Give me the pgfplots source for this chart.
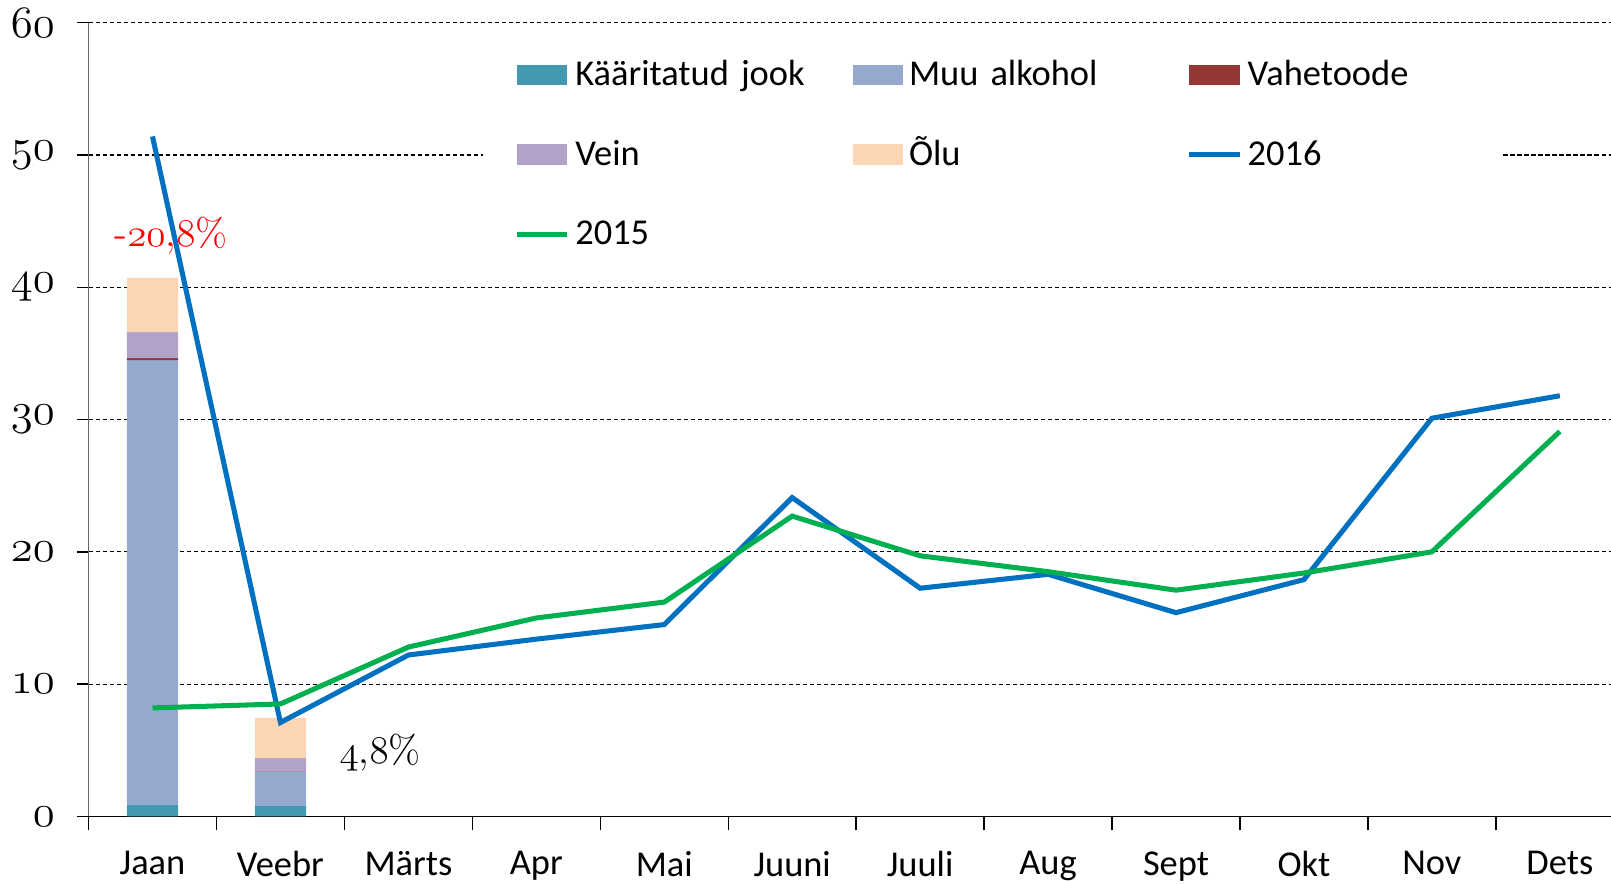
\RequirePackage{fix-cm}
\documentclass[border=0pt]{standalone}
\usepackage{fontspec}
\newfontfamily\calib{Carlito}
\usepackage{pgfplots}
\pgfplotsset{compat=1.18}

\definecolor{kjook}{RGB}{67,153,176}
\definecolor{muu}{RGB}{149,169,207}
\definecolor{vahe}{RGB}{149,55,53}
\definecolor{vein}{RGB}{178,162,199}
\definecolor{olu}{RGB}{252,213,181}
\definecolor{y2016}{RGB}{0,112,192}
\definecolor{y2015}{RGB}{0,176,80}

\pgfplotsset{
  legbar/.style={legend image code/.code={\fill[##1] (0pt,-3.6pt) rectangle (18pt,3.6pt);}},
  legline/.style={legend image code/.code={\draw[##1] (0pt,0pt) -- (18pt,0pt);}},
}

\begin{document}
\begin{tikzpicture}
\begin{axis}[
  width=543.4pt, height=283.3pt, scale only axis,
  xmin=-0.5, xmax=11.4, ymin=0, ymax=60,
  ybar stacked, bar width=0.4, reverse stacked plots=false,
  axis x line*=bottom, axis y line*=left,
  x axis line style={black, line width=0.6pt},
  y axis line style={gray!80!black, line width=0.6pt},
  xtick={0,...,11},
  xticklabels={Jaan,Veebr,Märts,Apr,Mai,Juuni,Juuli,Aug,Sept,Okt,Nov,Dets},
  minor xtick={-0.5,0.5,...,10.5},
  ytick={0,10,...,60},
  yticklabels={$\mathnormal{0}$,$\mathnormal{10}$,$\mathnormal{20}$,$\mathnormal{30}$,$\mathnormal{40}$,$\mathnormal{50}$,$\mathnormal{60}$},
  tick align=outside,
  major x tick style={draw=none},
  minor x tick style={black, line width=0.5pt},
  minor tick length=5pt,
  major tick length=4pt,
  ytick style={black, line width=0.5pt},
  ymajorgrids,
  grid style={black, dash pattern=on 1.5pt off 1pt, line width=0.4pt},
  x tick label style={font=\calib\fontsize{13}{15}\selectfont, yshift=-5pt},
  y tick label style={font=\fontsize{16}{18}\selectfont, xshift=-4.5pt},
  legend columns=3,
  legend cell align=left,
  legend style={at={(0.259,0.982)}, anchor=north west, draw=none, fill=white,
    font=\calib\fontsize{13}{15}\selectfont,
    inner xsep=11pt, inner ysep=6pt, row sep=14pt,
    /tikz/every even column/.append style={text width=78pt, column sep=19.1pt, inner sep=0pt, text height=9pt, text depth=3pt},
    /tikz/every odd column/.append style={column sep=0pt}},
]
\addplot[fill=kjook, draw=none, legbar] coordinates {(0,0.85) (1,0.8)};
\addlegendentry{\mbox{Kääritatud jook}}
\addplot[fill=muu, draw=none, legbar] coordinates {(0,33.65) (1,2.6)};
\addlegendentry{Muu alkohol}
\addplot[fill=vahe, draw=none, legbar] coordinates {(0,0.15) (1,0.05)};
\addlegendentry{Vahetoode}
\addplot[fill=vein, draw=none, legbar] coordinates {(0,1.95) (1,0.95)};
\addlegendentry{Vein}
\addplot[fill=olu, draw=none, legbar] coordinates {(0,4.1) (1,3.05)};
\addlegendentry{Õlu}
\addplot[sharp plot, stack plots=false, y2016, line width=1.8pt, mark=none, legline]
  coordinates {(0,51.4) (1,7.1) (2,12.2) (3,13.4) (4,14.5) (5,24.1) (6,17.25) (7,18.3) (8,15.4) (9,17.9) (10,30.1) (11,31.8)};
\addlegendentry{2016}
\addplot[sharp plot, stack plots=false, y2015, line width=1.8pt, mark=none, legline]
  coordinates {(0,8.2) (1,8.5) (2,12.8) (3,15.0) (4,16.2) (5,22.7) (6,19.7) (7,18.5) (8,17.1) (9,18.4) (10,20.0) (11,29.1)};
\addlegendentry{2015}
\node[red, font=\fontsize{14}{16}\selectfont] at (axis cs:0.145,43.9) {-$\mathnormal{20}$,$\mathnormal{8}$\%};
\node[black, font=\fontsize{14}{16}\selectfont] at (axis cs:1.78,4.8) {$\mathnormal{4}$,$\mathnormal{8}$\%};
\coordinate (bl) at (rel axis cs:0,0);
\coordinate (tr) at (rel axis cs:1,1);
\end{axis}
\pgfresetboundingbox
\path[use as bounding box] ([shift={(-31.6pt,-24pt)}]bl) rectangle ([shift={(0pt,8.1pt)}]tr);
\end{tikzpicture}
\end{document}
